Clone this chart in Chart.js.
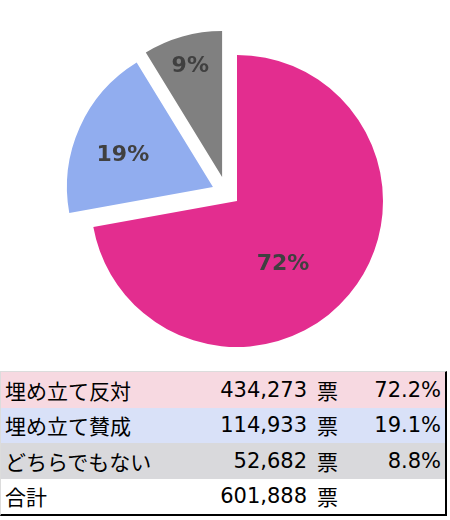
<!DOCTYPE html>
<html lang="ja">
<head>
  <meta charset="UTF-8" />
  <title>県民投票の結果</title>
  <script src="https://cdn.jsdelivr.net/npm/chart.js"></script>
  <style>
    body {
      margin: 0;
      background: #fff;
      width: 450px;
      height: 520px;
      position: relative;
      overflow: hidden;
    }
    .chart-box {
      position: absolute;
      left: 0;
      top: 0;
      width: 450px;
      height: 365px;
    }
    .table-box {
      position: absolute;
      left: 0;
      top: 371px;
      width: 444px;
      border-top: 1px solid #dcdcdc;
      border-left: 1px solid #dcdcdc;
      border-right: 2px solid #000;
      border-bottom: 2px solid #000;
    }
    table {
      width: 100%;
      border-collapse: collapse;
      table-layout: fixed;
      font-family: "DejaVu Sans", "Noto Sans CJK JP", sans-serif;
      font-size: 21px;
      color: #000;
    }
    td {
      padding: 0;
      height: 35.5px;
      white-space: nowrap;
    }
    td.name { padding-left: 4px; }
    td.num { text-align: right; }
    td.unit { padding-left: 10px; }
    td.pct { text-align: right; padding-right: 4px; }
  </style>
</head>
<body>
  <div class="chart-box">
    <canvas id="voteChart"></canvas>
  </div>
  <div class="table-box">
    <table id="voteTable">
      <colgroup>
        <col style="width:190px" />
        <col style="width:116px" />
        <col style="width:40px" />
        <col />
      </colgroup>
      <tbody></tbody>
    </table>
  </div>

  <script>
    const labels = ['埋め立て反対', '埋め立て賛成', 'どちらでもない'];
    const votes = [434273, 114933, 52682];
    const sliceColors = ['#e32d8f', '#91adef', '#808080'];
    const rowColors = ['#f7d9e1', '#d9e1f8', '#d9d9dc'];
    const totalLabel = '合計';
    const unit = '票';

    const total = votes.reduce((a, b) => a + b, 0);

    // table under the pie
    const tbody = document.querySelector('#voteTable tbody');
    labels.forEach((name, i) => {
      const tr = document.createElement('tr');
      tr.style.background = rowColors[i];
      tr.innerHTML =
        '<td class="name">' + name + '</td>' +
        '<td class="num">' + votes[i].toLocaleString('en-US') + '</td>' +
        '<td class="unit">' + unit + '</td>' +
        '<td class="pct">' + (votes[i] / total * 100).toFixed(1) + '%</td>';
      tbody.appendChild(tr);
    });
    const totalRow = document.createElement('tr');
    totalRow.innerHTML =
      '<td class="name">' + totalLabel + '</td>' +
      '<td class="num">' + total.toLocaleString('en-US') + '</td>' +
      '<td class="unit">' + unit + '</td><td class="pct"></td>';
    tbody.appendChild(totalRow);

    const deg = Math.PI / 180;

    // pulled-out slices (moved whole, radius kept) + percent labels
    function shiftOf(arc, s) {
      const mid = (arc.startAngle + arc.endAngle) / 2 + s.turn * deg;
      return { x: Math.cos(mid) * s.dist, y: Math.sin(mid) * s.dist };
    }

    const explodeLabels = {
      id: 'explodeLabels',
      beforeDatasetsDraw(chart, args, opts) {
        chart.getDatasetMeta(0).data.forEach((arc, i) => {
          if (arc._wrapped) return;
          const baseDraw = arc.draw;
          arc._wrapped = true;
          arc.draw = function (ctx) {
            const s = shiftOf(this, opts.shift[i]);
            ctx.save();
            ctx.translate(s.x, s.y);
            baseDraw.call(this, ctx);
            ctx.restore();
          };
        });
      },
      afterDatasetsDraw(chart, args, opts) {
        const ctx = chart.ctx;
        ctx.save();
        ctx.font = 'bold 22px "DejaVu Sans", sans-serif';
        ctx.fillStyle = '#404040';
        ctx.textAlign = 'center';
        ctx.textBaseline = 'middle';
        chart.getDatasetMeta(0).data.forEach((arc, i) => {
          const s = shiftOf(arc, opts.shift[i]);
          const place = opts.place[i];
          const a = (arc.startAngle + arc.endAngle) / 2 + place.turn * deg;
          const r = arc.outerRadius * place.dist;
          const pct = Math.round(votes[i] / total * 100) + '%';
          ctx.fillText(pct, arc.x + s.x + Math.cos(a) * r, arc.y + s.y + Math.sin(a) * r);
        });
        ctx.restore();
      }
    };

    new Chart(document.getElementById('voteChart'), {
      type: 'pie',
      data: {
        labels: labels,
        datasets: [{
          data: votes,
          backgroundColor: sliceColors,
          borderWidth: 0,
          radius: 146
        }]
      },
      options: {
        responsive: true,
        maintainAspectRatio: false,
        animation: false,
        layout: { padding: { left: 24, right: 0, top: 37, bottom: 0 } },
        plugins: {
          legend: { display: false },
          tooltip: { enabled: false },
          explodeLabels: {
            shift: [
              { dist: 0, turn: 0 },
              { dist: 27.8, turn: 6 },
              { dist: 28.3, turn: -16 }
            ],
            place: [
              { dist: 0.538, turn: 14.3 },
              { dist: 0.654, turn: -4.8 },
              { dist: 0.789, turn: -0.3 }
            ]
          }
        }
      },
      plugins: [explodeLabels]
    });
  </script>
</body>
</html>
